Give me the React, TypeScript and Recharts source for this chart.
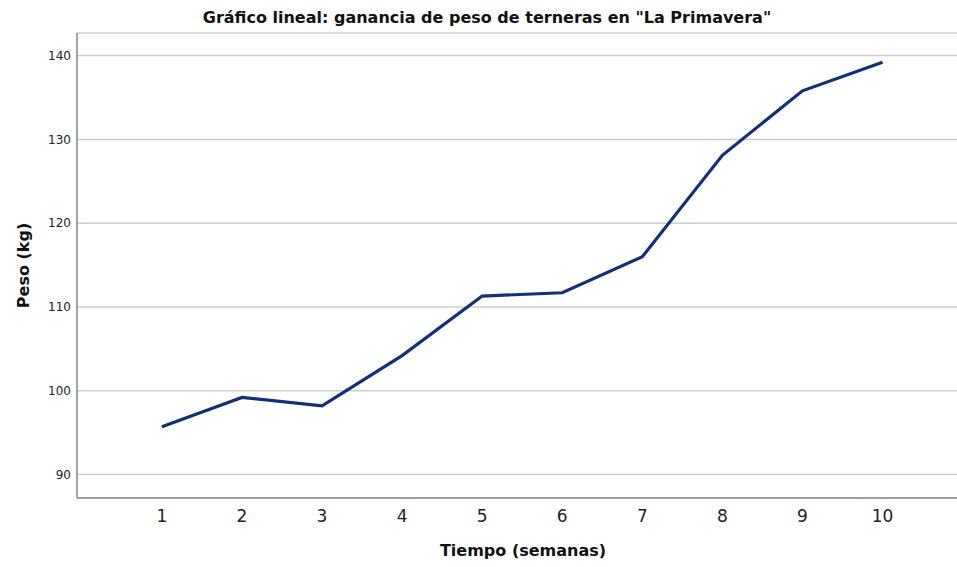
import React from "react";
import { LineChart, Line, XAxis, YAxis, CartesianGrid, Label } from "recharts";

const weeks = [1, 2, 3, 4, 5, 6, 7, 8, 9, 10];
const weights = [95.7, 99.2, 98.2, 104.2, 111.3, 111.7, 116.0, 128.1, 135.8, 139.2];
const yTicks = [90, 100, 110, 120, 130, 140];
const xTicks = [1, 2, 3, 4, 5, 6, 7, 8, 9, 10];

const title = 'Gráfico lineal: ganancia de peso de terneras en "La Primavera"';
const xTitle = "Tiempo (semanas)";
const yTitle = "Peso (kg)";

const data = weeks.map((w, i) => ({ week: w, peso: weights[i] }));

export default function App() {
  return (
    <div style={{ position: "absolute", left: 0, top: 0, width: 957, height: 567, background: "#fff" }}>
      <style>{`body{margin:0}`}</style>
      <div
        style={{
          position: "absolute",
          top: 8,
          left: 0,
          width: 974,
          textAlign: "center",
          fontFamily: "'DejaVu Sans', sans-serif",
          fontWeight: "bold",
          fontSize: 16,
          lineHeight: "20px",
          color: "#111",
          whiteSpace: "nowrap",
        }}
      >
        {title}
      </div>
      <LineChart width={957} height={567} data={data} margin={{ top: 33, right: 0, bottom: 0, left: 17 }}>
        <CartesianGrid vertical={false} stroke="#cfcfcf" strokeWidth={1.5} />
        <XAxis
          dataKey="week"
          type="number"
          domain={[-0.06, 10.93]}
          ticks={xTicks}
          tickLine={false}
          tickSize={0}
          tickMargin={12}
          height={69}
          axisLine={{ stroke: "#666", strokeWidth: 1.2 }}
          tick={{ fontFamily: "'DejaVu Sans', sans-serif", fontSize: 17, fill: "#222" }}
          allowDataOverflow
        >
          <Label
            content={(props: any) => {
              const vb = props.viewBox;
              return (
                <text
                  x={vb.x + vb.width / 2 + 6}
                  y={vb.y + 58}
                  textAnchor="middle"
                  fontFamily="'DejaVu Sans', sans-serif"
                  fontWeight="bold"
                  fontSize={16}
                  fill="#111"
                >
                  {xTitle}
                </text>
              );
            }}
          />
        </XAxis>
        <YAxis
          type="number"
          domain={[87.2, 142.7]}
          ticks={yTicks}
          tickLine={false}
          tickSize={0}
          tickMargin={6}
          width={60}
          axisLine={{ stroke: "#666", strokeWidth: 1.2 }}
          tick={{ fontFamily: "'DejaVu Sans', sans-serif", fontSize: 12, fill: "#222" }}
          allowDataOverflow
        >
          <Label
            content={(props: any) => {
              const vb = props.viewBox;
              const cx = vb.x + 12;
              const cy = vb.y + vb.height / 2;
              return (
                <text
                  x={cx}
                  y={cy}
                  transform={`rotate(-90 ${cx} ${cy})`}
                  textAnchor="middle"
                  fontFamily="'DejaVu Sans', sans-serif"
                  fontWeight="bold"
                  fontSize={16}
                  fill="#111"
                >
                  {yTitle}
                </text>
              );
            }}
          />
        </YAxis>
        <Line
          type="linear"
          dataKey="peso"
          stroke="#132f78"
          strokeWidth={3.2}
          dot={false}
          activeDot={false}
          isAnimationActive={false}
        />
      </LineChart>
    </div>
  );
}
